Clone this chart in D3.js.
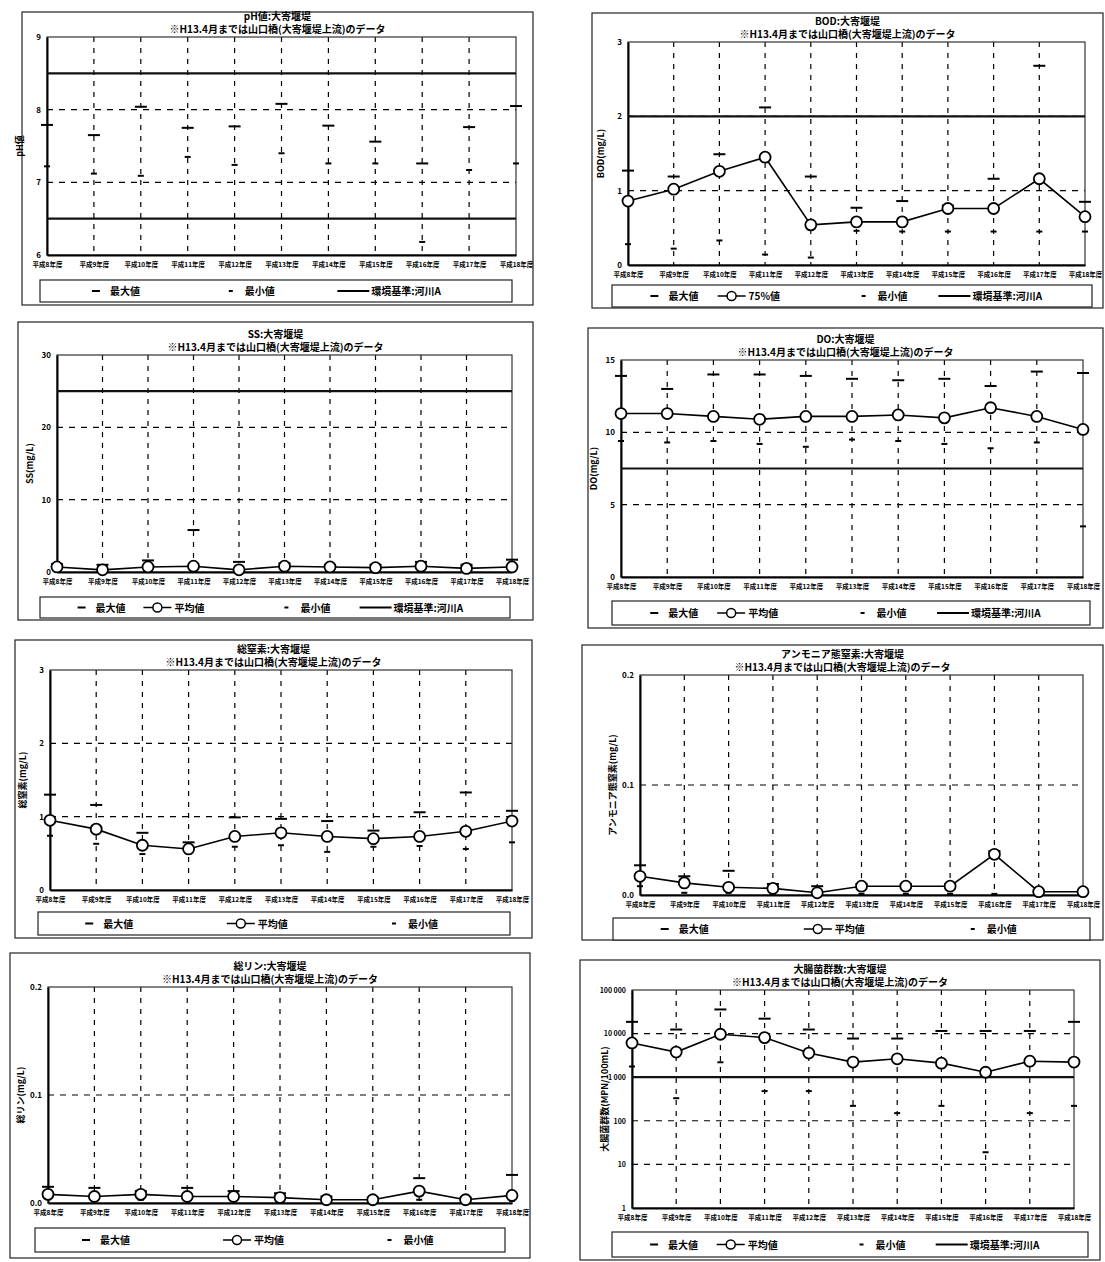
<!DOCTYPE html>
<html>
<head>
<meta charset="utf-8">
<script src="https://cdn.jsdelivr.net/npm/d3@7"></script>
<style>
  body { margin: 0; background: #fff; }
  text { font-family: "Noto Sans CJK JP", "Noto Sans", sans-serif; fill: #000; }
</style>
</head>
<body>
<div id="chart"></div>
<script>
// 年度 (x axis)
var years = ['平成8年度', '平成9年度', '平成10年度', '平成11年度', '平成12年度', '平成13年度',
  '平成14年度', '平成15年度', '平成16年度', '平成17年度', '平成18年度']

// pH
var phMax = [7.79, 7.65, 8.04, 7.75, 7.77, 8.08, 7.78, 7.56, 7.26, 7.76, 8.05]
var phMin = [7.22, 7.12, 7.09, 7.35, 7.24, 7.40, 7.26, 7.26, 6.18, 7.17, 7.26]
var phStd = [6.5, 8.5]
var phTicks = [6, 7, 8, 9]

// BOD
var bodMax = [1.27, 1.19, 1.49, 2.12, 1.19, 0.77, 0.86, 0.80, 1.16, 2.68, 0.85]
var bod75 = [0.86, 1.02, 1.26, 1.45, 0.54, 0.58, 0.58, 0.76, 0.76, 1.16, 0.65]
var bodMin = [0.28, 0.22, 0.33, 0.14, 0.10, 0.46, 0.45, 0.45, 0.45, 0.45, 0.45]
var bodStd = [2]
var bodTicks = [0, 1, 2, 3]

// SS
var ssMax = [1.1, 1.0, 1.6, 5.8, 1.4, 1.2, 1.0, 1.0, 1.4, 1.0, 1.7]
var ssMean = [0.7, 0.3, 0.7, 0.8, 0.3, 0.8, 0.7, 0.6, 0.8, 0.5, 0.7]
var ssMin = [0.3, 0.1, 0.2, 0.2, 0.1, 0.2, 0.2, 0.1, 0.2, 0.1, 0.2]
var ssStd = [25]
var ssTicks = [0, 10, 20, 30]

// DO
var doMax = [13.9, 13.0, 14.0, 14.0, 13.9, 13.7, 13.6, 13.7, 13.2, 14.2, 14.1]
var doMean = [11.3, 11.3, 11.1, 10.9, 11.1, 11.1, 11.2, 11.0, 11.7, 11.1, 10.2]
var doMin = [9.4, 9.3, 9.4, 9.2, 9.0, 9.5, 9.4, 9.2, 8.9, 9.3, 3.5]
var doStd = [7.5]
var doTicks = [0, 5, 10, 15]

// 総窒素
var tnMax = [1.30, 1.16, 0.78, 0.65, 0.99, 0.97, 0.94, 0.81, 1.06, 1.33, 1.08]
var tnMean = [0.95, 0.83, 0.61, 0.56, 0.73, 0.78, 0.73, 0.70, 0.73, 0.80, 0.94]
var tnMin = [0.74, 0.63, 0.49, 0.52, 0.59, 0.61, 0.52, 0.59, 0.60, 0.56, 0.65]
var tnTicks = [0, 1, 2, 3]

// アンモニア態窒素
var nhMax = [0.027, 0.017, 0.022, 0.010, 0.008, 0.010, 0.010, 0.010, 0.040, 0.004, 0.004]
var nhMean = [0.017, 0.011, 0.007, 0.006, 0.002, 0.008, 0.008, 0.008, 0.037, 0.003, 0.003]
var nhMin = [0.008, 0.002, 0.002, 0.001, 0.001, 0.001, 0.001, 0.001, 0.001, 0.001, 0.001]
var nhTicks = [0, 0.1, 0.2]

// 総リン
var tpMax = [0.015, 0.014, 0.011, 0.014, 0.011, 0.009, 0.006, 0.005, 0.023, 0.005, 0.026]
var tpMean = [0.008, 0.006, 0.008, 0.006, 0.006, 0.005, 0.003, 0.003, 0.011, 0.003, 0.007]
var tpMin = [0.004, 0.003, 0.003, 0.002, 0.002, 0.002, 0.002, 0.002, 0.003, 0.002, 0.002]
var tpTicks = [0, 0.1, 0.2]

// 大腸菌群数
var ecMax = [18600, 12400, 35800, 22000, 12400, 7700, 7700, 11500, 11500, 11500, 18600]
var ecMean = [6100, 3770, 9650, 8090, 3580, 2220, 2640, 2100, 1300, 2330, 2220]
var ecMin = [1760, 330, 2200, 480, 480, 220, 150, 220, 19, 150, 220]
var ecStd = [1000]
var ecTicks = [1, 10, 100, 1000, 10000, 100000]
var ecTickLabels = ['1', '10', '100', '1 000', '10 000', '100 000']

var note = '※H13.4月までは山口橋(大寄堰堤上流)のデータ'

var svg = d3.select('#chart').append('svg')
  .attr('width', 1105)
  .attr('height', 1262)

svg.append('rect').attr('width', 1105).attr('height', 1262).attr('fill', '#fff')

var panels = [
  { frame: [22, 12, 533, 305], plot: [47, 37, 516, 255], legend: [40, 280, 512, 302],
    title: 'pH値:大寄堰堤', ylabel: 'pH値', domain: [6, 9], ticks: phTicks, fmt: d3.format('d'),
    max: phMax, min: phMin, std: phStd },
  { frame: [592, 13, 1103, 308], plot: [628, 42, 1085, 265], legend: [612, 285, 1092, 307],
    title: 'BOD:大寄堰堤', ylabel: 'BOD(mg/L)', domain: [0, 3], ticks: bodTicks, fmt: d3.format('d'),
    max: bodMax, mean: bod75, meanName: '75%値', min: bodMin, std: bodStd },
  { frame: [18, 322, 533, 620], plot: [57, 355, 512, 572], legend: [40, 597, 510, 618],
    title: 'SS:大寄堰堤', ylabel: 'SS(mg/L)', domain: [0, 30], ticks: ssTicks, fmt: d3.format('d'),
    max: ssMax, mean: ssMean, meanName: '平均値', min: ssMin, std: ssStd },
  { frame: [588, 328, 1103, 628], plot: [621, 360, 1083, 577], legend: [612, 601, 1090, 625],
    title: 'DO:大寄堰堤', ylabel: 'DO(mg/L)', domain: [0, 15], ticks: doTicks, fmt: d3.format('d'),
    max: doMax, mean: doMean, meanName: '平均値', min: doMin, std: doStd },
  { frame: [15, 640, 532, 938], plot: [50, 670, 512, 890], legend: [38, 912, 510, 935],
    title: '総窒素:大寄堰堤', ylabel: '総窒素(mg/L)', domain: [0, 3], ticks: tnTicks, fmt: d3.format('d'),
    max: tnMax, mean: tnMean, meanName: '平均値', min: tnMin },
  { frame: [582, 645, 1103, 940], plot: [640, 675, 1083, 895], legend: [613, 918, 1090, 940],
    title: 'アンモニア態窒素:大寄堰堤', ylabel: 'アンモニア態窒素(mg/L)', domain: [0, 0.2], ticks: nhTicks, fmt: d3.format('.1f'),
    max: nhMax, mean: nhMean, meanName: '平均値', min: nhMin },
  { frame: [10, 953, 530, 1258], plot: [48, 987, 512, 1203], legend: [35, 1228, 505, 1252],
    title: '総リン:大寄堰堤', ylabel: '総リン(mg/L)', domain: [0, 0.2], ticks: tpTicks, fmt: d3.format('.1f'),
    max: tpMax, mean: tpMean, meanName: '平均値', min: tpMin },
  { frame: [580, 960, 1100, 1260], plot: [632, 990, 1074, 1208], legend: [612, 1232, 1088, 1257],
    title: '大腸菌群数:大寄堰堤', ylabel: '大腸菌群数(MPN/100mL)', domain: [1, 100000], ticks: ecTicks, log: true,
    tickLabels: ecTickLabels, max: ecMax, mean: ecMean, meanName: '平均値', min: ecMin, std: ecStd }
]

panels.forEach(drawPanel)

function drawPanel (p) {
  var g = svg.append('g')
  var px0 = p.plot[0], py0 = p.plot[1], px1 = p.plot[2], py1 = p.plot[3]

  // outer frame
  g.append('rect')
    .attr('x', p.frame[0]).attr('y', p.frame[1])
    .attr('width', p.frame[2] - p.frame[0]).attr('height', p.frame[3] - p.frame[1])
    .attr('fill', 'none').attr('stroke', '#222').attr('stroke-width', 1.2)

  var x = d3.scalePoint().domain(years).range([px0, px1])
  var y = (p.log ? d3.scaleLog() : d3.scaleLinear()).domain(p.domain).range([py1, py0])

  // titles
  var cx = (p.frame[0] + p.frame[2]) / 2
  g.append('text').attr('x', cx).attr('y', py0 - 17).attr('text-anchor', 'middle')
    .attr('font-size', 10).attr('font-weight', 'bold').text(p.title)
  g.append('text').attr('x', cx).attr('y', py0 - 4).attr('text-anchor', 'middle')
    .attr('font-size', 10).attr('font-weight', 'bold').text(note)

  // grid
  g.append('g').selectAll('line').data(years.slice(1, -1)).enter().append('line')
    .attr('x1', function (d) { return x(d) }).attr('x2', function (d) { return x(d) })
    .attr('y1', py0).attr('y2', py1)
    .attr('stroke', '#000').attr('stroke-width', 1.2).attr('stroke-dasharray', '5,6')
  g.append('g').selectAll('line').data(p.ticks.slice(1, -1)).enter().append('line')
    .attr('x1', px0).attr('x2', px1)
    .attr('y1', function (d) { return y(d) }).attr('y2', function (d) { return y(d) })
    .attr('stroke', '#000').attr('stroke-width', 1.1).attr('stroke-dasharray', '6,6')

  // plot border
  g.append('rect').attr('x', px0).attr('y', py0)
    .attr('width', px1 - px0).attr('height', py1 - py0)
    .attr('fill', 'none').attr('stroke', '#333').attr('stroke-width', 1.2)

  // y axis
  var yAxis = d3.axisLeft(y).tickValues(p.ticks).tickSize(0).tickPadding(6)
    .tickFormat(function (d, i) { return p.tickLabels ? p.tickLabels[i] : p.fmt(d) })
  var ya = g.append('g').attr('transform', 'translate(' + px0 + ',0)').call(yAxis)
  ya.select('.domain').attr('stroke', '#000').attr('stroke-width', 2)
  ya.selectAll('text').attr('font-size', p.log ? 7 : 8).attr('font-weight', 'bold')
    .attr('font-family', '"Noto Sans CJK JP", sans-serif')

  // x axis
  var xAxis = d3.axisBottom(x).tickSize(0).tickPadding(7)
  var xa = g.append('g').attr('transform', 'translate(0,' + py1 + ')').call(xAxis)
  xa.select('.domain').attr('stroke', '#000').attr('stroke-width', 2)
  xa.selectAll('text').attr('font-size', 6.5).attr('font-weight', 'bold')
    .attr('font-family', '"Noto Sans CJK JP", sans-serif')

  // y label
  g.append('text')
    .attr('transform', 'translate(' + (px0 - 24) + ',' + ((py0 + py1) / 2) + ') rotate(-90)')
    .attr('text-anchor', 'middle').attr('font-size', 9).attr('font-weight', 'bold')
    .text(p.ylabel)

  // environmental standard
  if (p.std) {
    g.append('g').selectAll('line').data(p.std).enter().append('line')
      .attr('x1', px0).attr('x2', px1)
      .attr('y1', function (d) { return y(d) }).attr('y2', function (d) { return y(d) })
      .attr('stroke', '#111').attr('stroke-width', 2.2)
  }

  // max markers
  g.append('g').selectAll('line').data(p.max).enter().append('line')
    .attr('x1', function (d, i) { return x(years[i]) - 6 })
    .attr('x2', function (d, i) { return x(years[i]) + 6 })
    .attr('y1', function (d) { return y(d) }).attr('y2', function (d) { return y(d) })
    .attr('stroke', '#000').attr('stroke-width', 2)

  // min markers
  g.append('g').selectAll('line').data(p.min).enter().append('line')
    .attr('x1', function (d, i) { return x(years[i]) - 3 })
    .attr('x2', function (d, i) { return x(years[i]) + 3 })
    .attr('y1', function (d) { return y(d) }).attr('y2', function (d) { return y(d) })
    .attr('stroke', '#000').attr('stroke-width', 2)

  // mean / 75% line
  if (p.mean) {
    var line = d3.line()
      .x(function (d, i) { return x(years[i]) })
      .y(function (d) { return y(d) })
    g.append('path').datum(p.mean).attr('d', line)
      .attr('fill', 'none').attr('stroke', '#000').attr('stroke-width', 1.6)
    g.append('g').selectAll('circle').data(p.mean).enter().append('circle')
      .attr('cx', function (d, i) { return x(years[i]) })
      .attr('cy', function (d) { return y(d) })
      .attr('r', 5.5)
      .attr('fill', '#fff').attr('stroke', '#000').attr('stroke-width', 1.8)
  }

  // legend
  var lx0 = p.legend[0], ly0 = p.legend[1], lx1 = p.legend[2], ly1 = p.legend[3]
  g.append('rect').attr('x', lx0).attr('y', ly0)
    .attr('width', lx1 - lx0).attr('height', ly1 - ly0)
    .attr('fill', '#fff').attr('stroke', '#222').attr('stroke-width', 1.2)
  var lw = lx1 - lx0
  var ly = (ly0 + ly1) / 2
  var items = [{ type: 'max', name: '最大値' }]
  if (p.mean) items.push({ type: 'mean', name: p.meanName })
  items.push({ type: 'min', name: '最小値' })
  if (p.std) items.push({ type: 'std', name: '環境基準:河川A' })
  var pos = items.length === 4 ? [0.08, 0.22, 0.52, 0.68]
    : (p.mean ? [0.1, 0.4, 0.75] : [0.11, 0.4, 0.63])
  items.forEach(function (it, k) {
    var sx = lx0 + lw * pos[k]
    var tx
    if (it.type === 'max') {
      g.append('line').attr('x1', sx).attr('x2', sx + 8).attr('y1', ly).attr('y2', ly)
        .attr('stroke', '#000').attr('stroke-width', 2)
      tx = sx + 18
    } else if (it.type === 'min') {
      g.append('line').attr('x1', sx).attr('x2', sx + 4).attr('y1', ly).attr('y2', ly)
        .attr('stroke', '#000').attr('stroke-width', 2)
      tx = sx + 16
    } else if (it.type === 'mean') {
      g.append('line').attr('x1', sx).attr('x2', sx + 28).attr('y1', ly).attr('y2', ly)
        .attr('stroke', '#000').attr('stroke-width', 1.5)
      g.append('circle').attr('cx', sx + 14).attr('cy', ly).attr('r', 4.5)
        .attr('fill', '#fff').attr('stroke', '#000').attr('stroke-width', 1.5)
      tx = sx + 31
    } else {
      g.append('line').attr('x1', sx).attr('x2', sx + 32).attr('y1', ly).attr('y2', ly)
        .attr('stroke', '#000').attr('stroke-width', 1.8)
      tx = sx + 34
    }
    g.append('text').attr('x', tx).attr('y', ly + 4)
      .attr('font-size', 10).attr('font-weight', 'bold').text(it.name)
  })
}
</script>
</body>
</html>
